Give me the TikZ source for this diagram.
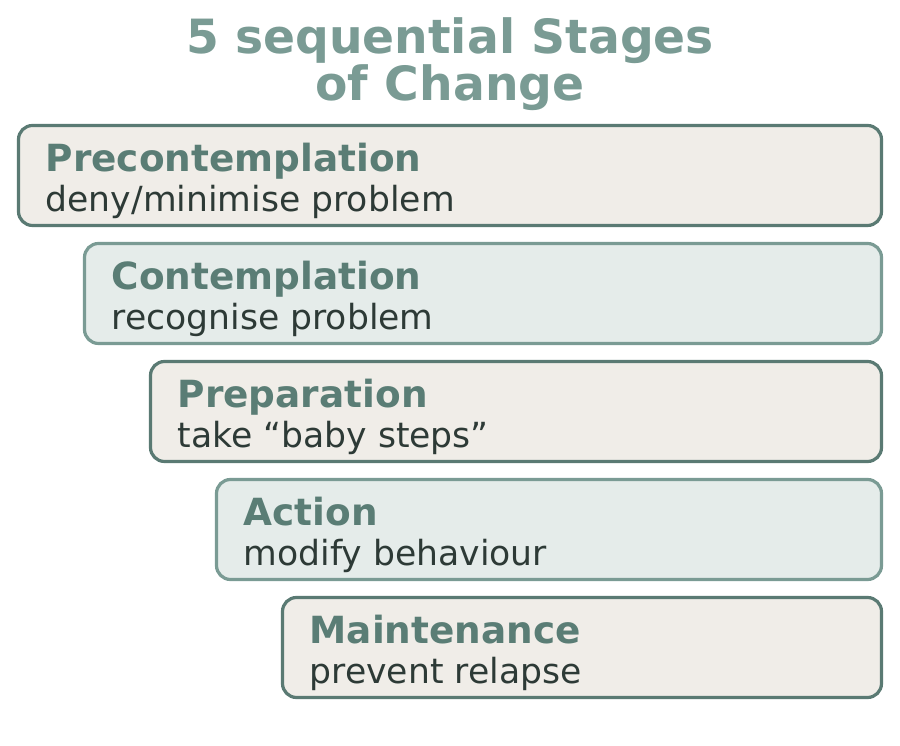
\documentclass[tikz,border=0pt]{standalone}
\usepackage{fontspec}
\setmainfont{DejaVu Sans}
\usepackage{xcolor}
\usepackage{tikz}
\usetikzlibrary{positioning}

\definecolor{titlegreen}{HTML}{7A9B94}
\definecolor{headgreen}{HTML}{5A7D75}
\definecolor{darkedge}{HTML}{5A7A73}
\definecolor{lightedge}{HTML}{7A9B94}
\definecolor{sandfill}{HTML}{F0EDE8}
\definecolor{mistfill}{HTML}{E5ECEA}
\definecolor{bodytext}{HTML}{2D3A36}

\tikzset{
  stagebox/.style={rectangle, rounded corners=14pt, line width=3.2pt, outer sep=0pt,
    minimum height=100pt, inner sep=0pt},
  sandbox/.style={stagebox, draw=darkedge, fill=sandfill},
  mistbox/.style={stagebox, draw=lightedge, fill=mistfill},
  head/.style={anchor=base west, inner sep=0pt, text=headgreen,
    font=\fontsize{37.4}{40}\selectfont\bfseries},
  body/.style={anchor=base west, inner sep=0pt, text=bodytext,
    font=\fontsize{34.6}{38}\selectfont}
}

\begin{document}
\begin{tikzpicture}[x=1pt,y=1pt,node distance=18pt]
  \useasboundingbox (0,0) rectangle (900,746);
  % title
  \node (title) [align=center, text=titlegreen, anchor=base, inner sep=0pt,
    font=\fontsize{47.2}{44}\selectfont\bfseries] at (450,645)
    {5 sequential Stages\\of Change};
  % stages, stepping in from the left
  \node (1) [sandbox, minimum width=863pt, anchor=north east] at (881.5,620.5) {};
  \node (2) [mistbox, minimum width=797pt, below=of 1.south east, anchor=north east] {};
  \node (3) [sandbox, minimum width=731pt, below=of 2.south east, anchor=north east] {};
  \node (4) [mistbox, minimum width=665pt, below=of 3.south east, anchor=north east] {};
  \node (5) [sandbox, minimum width=599pt, below=of 4.south east, anchor=north east] {};
  % labels
  \node (1h) [head] at ([xshift=27pt,yshift=-46pt]1.north west) {Precontemplation};
  \node (1b) [body] at ([yshift=-40pt]1h.base west) {deny/minimise problem};
  \node (2h) [head] at ([xshift=27pt,yshift=-46pt]2.north west) {Contemplation};
  \node (2b) [body] at ([yshift=-40pt]2h.base west) {recognise problem};
  \node (3h) [head] at ([xshift=27pt,yshift=-46pt]3.north west) {Preparation};
  \node (3b) [body] at ([yshift=-40pt]3h.base west) {take “baby steps”};
  \node (4h) [head] at ([xshift=27pt,yshift=-46pt]4.north west) {Action};
  \node (4b) [body] at ([yshift=-40pt]4h.base west) {modify behaviour};
  \node (5h) [head] at ([xshift=27pt,yshift=-46pt]5.north west) {Maintenance};
  \node (5b) [body] at ([yshift=-40pt]5h.base west) {prevent relapse};
\end{tikzpicture}
\end{document}
